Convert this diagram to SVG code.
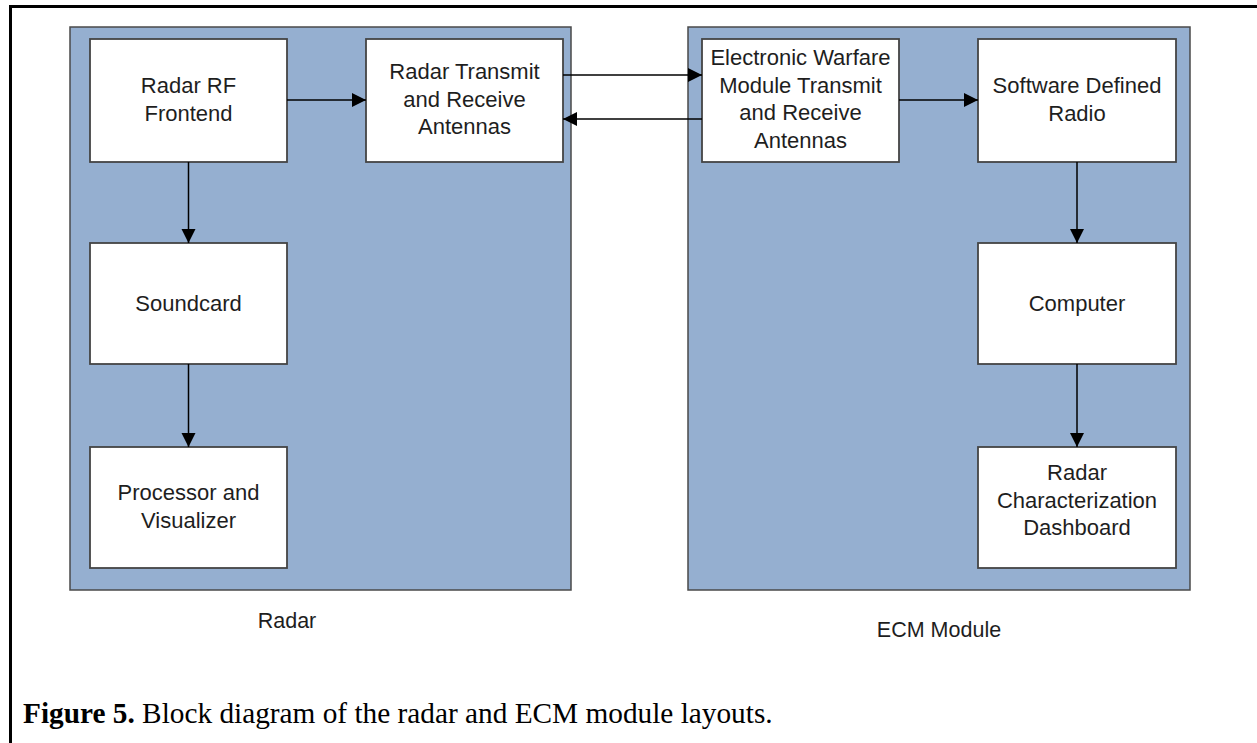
<svg xmlns="http://www.w3.org/2000/svg" width="1257" height="743" viewBox="0 0 1257 743">
<style>
.frame{stroke:#000;stroke-width:3;fill:none}
.cont{fill:#95afd0;stroke:#4a4a4a;stroke-width:1.5}
.box{fill:#fff;stroke:#444;stroke-width:1.8}
.t{font-family:"Liberation Sans",Arial,sans-serif;font-size:22px;fill:#1e1e1e;text-anchor:middle}
.lbl{font-family:"Liberation Sans",Arial,sans-serif;font-size:21.5px;fill:#1e1e1e;text-anchor:middle}
.cap{font-family:"Liberation Serif","Times New Roman",serif;font-size:29.3px;fill:#000}
.c line{stroke:#000;stroke-width:1.5;marker-end:url(#ah)}
</style>
<defs>
<marker id="ah" markerUnits="userSpaceOnUse" markerWidth="15" markerHeight="15" refX="14" refY="7" orient="auto">
<path d="M0,0 L14,7 L0,14 z" fill="#000"/>
</marker>
</defs>
<rect width="1257" height="743" fill="#fff"/>
<path class="frame" d="M10.5,743 V6.5 H1257"/>
<g id="radar">
<rect class="cont" x="70" y="27" width="501" height="563"/>
<text class="lbl" x="287" y="628">Radar</text>
</g>
<g id="ecm">
<rect class="cont" x="688" y="27" width="502" height="563"/>
<text class="lbl" x="939" y="637">ECM Module</text>
</g>
<g id="rf">
<rect class="box" x="90" y="39" width="197" height="123"/>
<text class="t" x="188.5" y="93">Radar RF</text>
<text class="t" x="188.5" y="121">Frontend</text>
</g>
<g id="rtx">
<rect class="box" x="366" y="39" width="197" height="123"/>
<text class="t" x="464.5" y="79">Radar Transmit</text>
<text class="t" x="464.5" y="107">and Receive</text>
<text class="t" x="464.5" y="134">Antennas</text>
</g>
<g id="sound">
<rect class="box" x="90" y="243" width="197" height="121"/>
<text class="t" x="188.5" y="311">Soundcard</text>
</g>
<g id="proc">
<rect class="box" x="90" y="447" width="197" height="121"/>
<text class="t" x="188.5" y="500">Processor and</text>
<text class="t" x="188.5" y="528">Visualizer</text>
</g>
<g id="ew">
<rect class="box" x="702" y="39" width="197" height="123"/>
<text class="t" x="800.5" y="65">Electronic Warfare</text>
<text class="t" x="800.5" y="93">Module Transmit</text>
<text class="t" x="800.5" y="120">and Receive</text>
<text class="t" x="800.5" y="148">Antennas</text>
</g>
<g id="sdr">
<rect class="box" x="978" y="39" width="198" height="123"/>
<text class="t" x="1077" y="93">Software Defined</text>
<text class="t" x="1077" y="121">Radio</text>
</g>
<g id="comp">
<rect class="box" x="978" y="243" width="198" height="121"/>
<text class="t" x="1077" y="311">Computer</text>
</g>
<g id="dash">
<rect class="box" x="978" y="447" width="198" height="121"/>
<text class="t" x="1077" y="480">Radar</text>
<text class="t" x="1077" y="508">Characterization</text>
<text class="t" x="1077" y="535">Dashboard</text>
</g>
<g id="connectors" class="c">
<line x1="287" y1="100" x2="366" y2="100"/>
<line x1="563" y1="75" x2="702" y2="75"/>
<line x1="702" y1="119" x2="563" y2="119"/>
<line x1="899" y1="100" x2="978" y2="100"/>
<line x1="188.5" y1="162" x2="188.5" y2="243"/>
<line x1="188.5" y1="364" x2="188.5" y2="447"/>
<line x1="1077" y1="162" x2="1077" y2="243"/>
<line x1="1077" y1="364" x2="1077" y2="447"/>
</g>
<text class="cap" x="23" y="723"><tspan font-weight="bold">Figure 5.</tspan> Block diagram of the radar and ECM module layouts.</text>
</svg>
